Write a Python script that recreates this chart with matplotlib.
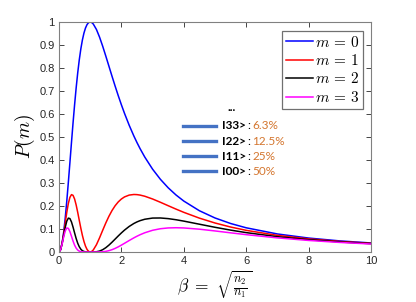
import matplotlib.pyplot as plt
from matplotlib.lines import Line2D

# beta grid and P(m) values
beta = [0, 0.05, 0.1, 0.15, 0.2, 0.25, 0.3, 0.35, 0.4, 0.45, 0.5, 0.55, 0.6, 0.65,
        0.7, 0.75, 0.8, 0.85, 0.9, 0.95, 1.0, 1.05, 1.1, 1.2, 1.3, 1.4, 1.5, 1.6,
        1.7, 1.8, 1.9, 2.0, 2.1, 2.25, 2.4, 2.5, 2.6, 2.75, 3.0, 3.25, 3.5, 3.75,
        4.0, 4.5, 5.0, 5.5, 6.0, 7.0, 8.0, 9.0, 10.0]
p0 = [0, 0.00995, 0.03921, 0.08608, 0.14793, 0.22145, 0.30301, 0.38888, 0.47562,
      0.56016, 0.64, 0.71323, 0.77855, 0.83518, 0.88284, 0.9216, 0.95182, 0.97404,
      0.98898, 0.99737, 1.0, 0.99762, 0.99097, 0.96749, 0.9342, 0.89482, 0.85207,
      0.80798, 0.76394, 0.7209, 0.67946, 0.64, 0.6027, 0.55096, 0.50418, 0.47562,
      0.44904, 0.4126, 0.36, 0.31603, 0.2791, 0.24793, 0.22145, 0.17938, 0.14793,
      0.1239, 0.10519, 0.0784, 0.06059, 0.04819, 0.03921]
p1 = [0, 0.00985, 0.03767, 0.07867, 0.12605, 0.17241, 0.2112, 0.23765, 0.24941,
      0.24638, 0.2304, 0.20454, 0.17241, 0.13765, 0.10343, 0.07225, 0.04586, 0.02529,
      0.0109, 0.00262, 0.0, 0.00237, 0.00895, 0.03145, 0.06147, 0.09412, 0.12605,
      0.15515, 0.18034, 0.2012, 0.2178, 0.2304, 0.23945, 0.2474, 0.24998, 0.24941,
      0.2474, 0.24236, 0.2304, 0.21616, 0.2012, 0.18646, 0.17241, 0.1472, 0.12605,
      0.10855, 0.09413, 0.07225, 0.05692, 0.04587, 0.03767]
p2 = [0, 0.00975, 0.0362, 0.0719, 0.1074, 0.13423, 0.1472, 0.14523, 0.13079,
      0.10837, 0.08294, 0.05866, 0.03818, 0.02269, 0.01212, 0.00566, 0.00221, 0.00066,
      0.00012, 0.00001, 0.0, 0.00001, 0.00008, 0.00102, 0.00404, 0.0099, 0.01865,
      0.02979, 0.04257, 0.05616, 0.06981, 0.08294, 0.09513, 0.11109, 0.12395, 0.13079,
      0.13631, 0.14236, 0.14746, 0.14785, 0.14505, 0.14023, 0.13423, 0.1208, 0.1074,
      0.0951, 0.08423, 0.06659, 0.05347, 0.04366, 0.0362]
p3 = [0, 0.00966, 0.03478, 0.06571, 0.09151, 0.10451, 0.1026, 0.08875, 0.06858,
      0.04766, 0.02986, 0.01682, 0.00846, 0.00374, 0.00142, 0.00044, 0.00011, 0.00002,
      0.0, 0.0, 0.0, 0.0, 0.0, 0.00003, 0.00027, 0.00104, 0.00276,
      0.00572, 0.01005, 0.01567, 0.02238, 0.02986, 0.0378, 0.04988, 0.06146, 0.06858,
      0.0751, 0.08362, 0.09437, 0.10112, 0.10457, 0.10546, 0.10451, 0.09913, 0.09151,
      0.08332, 0.07537, 0.06137, 0.05023, 0.04156, 0.03478]

series_labels = [r'$m\,=\,0$', r'$m\,=\,1$', r'$m\,=\,2$', r'$m\,=\,3$']
series_colors = ['#0000ff', '#ff0000', '#000000', '#ff00ff']

kets = ['I33>', 'I22>', 'I11>', 'I00>']
shares = ['6.3%', '12.5%', '25%', '50%']

plt.rcParams['mathtext.fontset'] = 'cm'

fig = plt.figure(figsize=(4.16, 3.02), dpi=100)
ax = fig.add_axes([0.1418, 0.1656, 0.75, 0.7616])

for vals, lab, col in zip([p0, p1, p2, p3], series_labels, series_colors):
    ax.plot(beta, vals, color=col, lw=1.1, label=lab)

ax.set_xlim(0, 10)
ax.set_ylim(0, 1)
ax.set_xticks([0, 2, 4, 6, 8, 10])
ax.set_yticks([i / 10 for i in range(11)])
ax.set_yticklabels(['0', '0.1', '0.2', '0.3', '0.4', '0.5', '0.6', '0.7', '0.8', '0.9', '1'])
ax.tick_params(direction='in', top=True, right=True, length=3.5, width=0.6,
               labelsize=8, colors='#262626', labelcolor='#262626', pad=3)
for sp in ax.spines.values():
    sp.set_color('#808080')
    sp.set_linewidth(0.8)
for lbl in ax.get_xticklabels() + ax.get_yticklabels():
    lbl.set_family('Liberation Sans')

ax.set_ylabel('$P(m)$', fontsize=14)
ax.yaxis.set_label_coords(-0.07, 0.5)
ax.set_xlabel(r'$\beta\ =\ \sqrt{\frac{n_2}{n_1}}$', fontsize=12.5)
ax.xaxis.set_label_coords(0.5, -0.075)

leg = ax.legend(loc='upper right', bbox_to_anchor=(0.974, 0.961), borderaxespad=0,
                fontsize=11, handlelength=1.8, handletextpad=0.1, labelspacing=0.22,
                borderpad=0.25, fancybox=False, framealpha=1)
leg.get_frame().set_edgecolor('#707070')
leg.get_frame().set_linewidth(0.9)

# inset annotation: blue markers with ket labels
ax.text(0.553, 0.612, '...', transform=ax.transAxes, ha='center', va='baseline',
        fontsize=8.5, family='Lato', fontweight='bold')
y0 = 0.548
dy = 0.066
for i, (k, s) in enumerate(zip(kets, shares)):
    y = y0 - i * dy
    ax.add_line(Line2D([0.397, 0.502], [y, y], transform=ax.transAxes,
                       color='#4472C4', lw=2.4))
    ax.text(0.523, y, k, transform=ax.transAxes, va='center', ha='left',
            fontsize=8.5, family='Lato', fontweight='bold', color='black')
    ax.text(0.604, y, ':', transform=ax.transAxes, va='center', ha='left',
            fontsize=8.5, family='Lato', color='black')
    ax.text(0.62, y, s, transform=ax.transAxes, va='center', ha='left',
            fontsize=8.5, family='Lato', color='#D4762F')

fig.savefig('out.png', dpi=100)
